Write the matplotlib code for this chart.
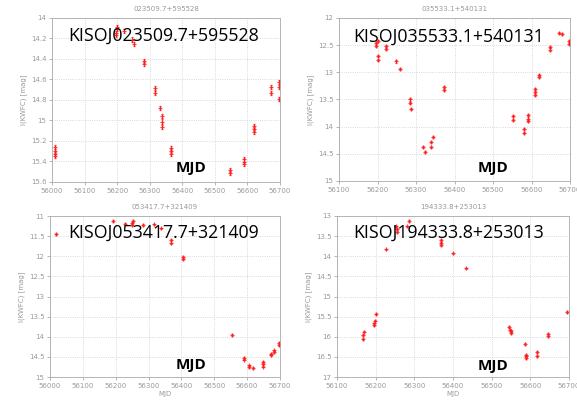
import matplotlib
matplotlib.use("Agg")
import matplotlib.pyplot as plt
import numpy as np

# KWFC I-band light curves of four KISO variables
names = ['023509.7+595528', '035533.1+540131', '053417.7+321409', '194333.8+253013']

mjd_1 = [56008, 56008, 56008, 56008, 56195, 56195, 56200, 56200, 56220, 56246, 56251,
         56282, 56282, 56315, 56315, 56331, 56338, 56338, 56338, 56366, 56366, 56366,
         56548, 56548, 56589, 56589, 56589, 56620, 56620, 56620, 56673, 56673, 56697,
         56697, 56697]
mag_1 = [15.26, 15.30, 15.33, 15.35, 14.15, 14.17, 14.09, 14.11, 14.13, 14.21, 14.25,
         14.42, 14.45, 14.68, 14.73, 14.88, 14.96, 15.01, 15.06, 15.27, 15.30, 15.33,
         15.48, 15.51, 15.38, 15.40, 15.42, 15.05, 15.08, 15.11, 14.67, 14.73, 14.62,
         14.67, 14.79]

mjd_2 = [56195, 56195, 56202, 56202, 56202, 56223, 56223, 56249, 56258, 56284, 56284,
         56287, 56318, 56323, 56339, 56339, 56343, 56372, 56372, 56553, 56553, 56581,
         56581, 56592, 56592, 56592, 56608, 56608, 56608, 56620, 56620, 56648, 56648,
         56672, 56679, 56698, 56698]
mag_2 = [12.46, 12.52, 12.43, 12.70, 12.78, 12.52, 12.57, 12.80, 12.94, 13.50, 13.57,
         13.68, 14.37, 14.46, 14.37, 14.28, 14.19, 13.27, 13.32, 13.81, 13.87, 14.04,
         14.11, 13.79, 13.85, 13.90, 13.30, 13.36, 13.41, 13.05, 13.08, 12.53, 12.58,
         12.28, 12.30, 12.43, 12.48]

mjd_3 = [56019, 56193, 56227, 56250, 56250, 56253, 56284, 56318, 56339, 56369, 56369,
         56406, 56406, 56555, 56590, 56590, 56605, 56605, 56619, 56649, 56649, 56649,
         56673, 56673, 56681, 56681, 56697, 56697]
mag_3 = [11.44, 11.12, 11.19, 11.17, 11.23, 11.12, 11.23, 11.21, 11.31, 11.60, 11.68,
         12.02, 12.07, 13.95, 14.53, 14.57, 14.71, 14.75, 14.78, 14.62, 14.68, 14.74,
         14.42, 14.46, 14.34, 14.38, 14.15, 14.21]

mjd_4 = [56166, 56166, 56169, 56196, 56196, 56199, 56202, 56228, 56252, 56254, 56254,
         56282, 56287, 56368, 56368, 56368, 56401, 56434, 56544, 56547, 56550, 56550,
         56586, 56589, 56589, 56589, 56616, 56616, 56645, 56645, 56694]
mag_4 = [15.96, 16.05, 15.87, 15.67, 15.72, 15.60, 15.43, 13.83, 13.26, 13.32, 13.39,
         13.26, 13.13, 13.60, 13.66, 13.72, 13.93, 14.30, 15.76, 15.83, 15.85, 15.90,
         16.18, 16.45, 16.49, 16.53, 16.38, 16.48, 15.92, 15.98, 15.38]

mag_err = 0.02

panels = [
    (mjd_1, mag_1, (56000, 56700), (15.6, 14), np.arange(14, 15.61, 0.2), ['14', '14.2', '14.4', '14.6', '14.8', '15', '15.2', '15.4', '15.6']),
    (mjd_2, mag_2, (56100, 56700), (15, 12), np.arange(12, 15.01, 0.5), ['12', '12.5', '13', '13.5', '14', '14.5', '15']),
    (mjd_3, mag_3, (56000, 56700), (15, 11), np.arange(11, 15.01, 0.5), ['11', '11.5', '12', '12.5', '13', '13.5', '14', '14.5', '15']),
    (mjd_4, mag_4, (56100, 56700), (17, 13), np.arange(13, 17.01, 0.5), ['13', '13.5', '14', '14.5', '15', '15.5', '16', '16.5', '17']),
]

W, H = 577, 401
fig = plt.figure(figsize=(W / 100, H / 100), dpi=100)

# axes boxes in pixels: left, top, right, bottom
boxes = [(52, 18, 280, 182), (339, 18, 570, 181), (50, 216, 280, 377), (337, 216, 569, 377)]
label_pos = [(68, 36), (353, 37), (68, 233), (353, 233)]
mjd_pos = [(191, 168), (493, 168), (191, 365), (493, 366)]

grey = '#9a9a9a'
for i, (x, y, xl, yl, yt, ytl) in enumerate(panels):
    l, t, r, b = boxes[i]
    ax = fig.add_axes([l / W, 1 - b / H, (r - l) / W, (b - t) / H])
    ax.errorbar(x, y, yerr=mag_err, fmt='+', color='#ff1a1a', ms=3, mew=0.9,
                elinewidth=0.7, capsize=1, alpha=0.85)
    ax.set_xlim(*xl)
    ax.set_ylim(*yl)
    ax.set_xticks(np.arange(xl[0], xl[1] + 1, 100))
    ax.set_yticks(yt)
    ax.set_yticklabels(ytl)
    ax.grid(True, color='#cccccc', linestyle=':', linewidth=0.6)
    ax.tick_params(labelsize=5, colors=grey, length=2, width=0.5, pad=2)
    for s in ax.spines.values():
        s.set_color('#aaaaaa')
        s.set_linewidth(0.6)
    ax.set_title(names[i], fontsize=5, color=grey, pad=5)
    ax.set_ylabel('I(KWFC) [mag]', fontsize=5, color=grey, labelpad=3)
    if i >= 2:
        ax.set_xlabel('MJD', fontsize=5, color=grey, labelpad=2)

    px, py = label_pos[i]
    fig.text(px / W, 1 - py / H, 'KISOJ' + names[i], fontsize=12.8, family='Open Sans',
             color='black', ha='left', va='center')
    mx, my = mjd_pos[i]
    fig.text(mx / W, 1 - my / H, 'MJD', fontsize=11, family='Open Sans', weight='bold',
             color='black', ha='center', va='center')

fig.savefig('out.png', dpi=100)
